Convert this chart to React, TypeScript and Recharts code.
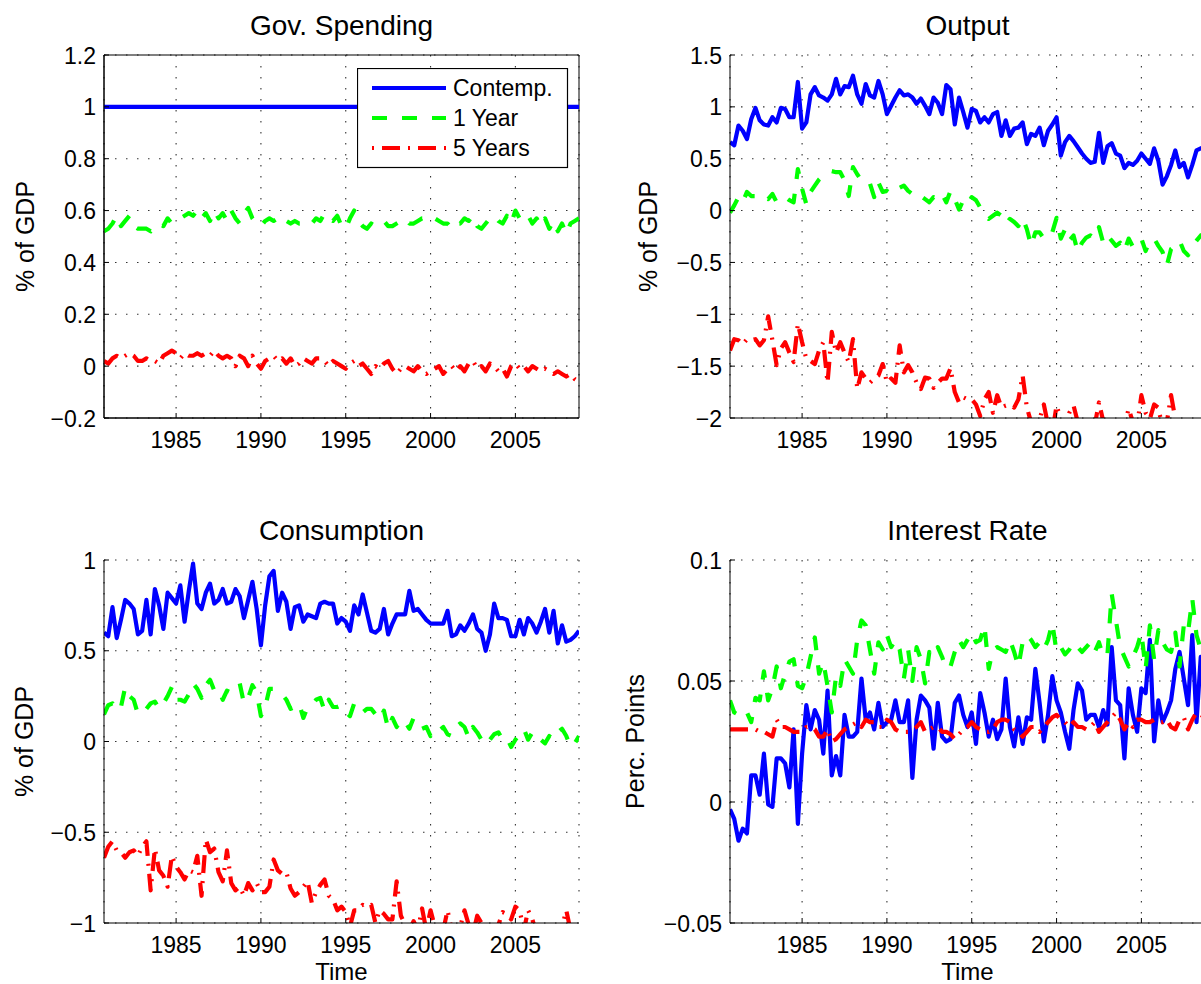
import React from 'react';
import { LineChart, Line, XAxis, YAxis, CartesianGrid, Legend, ReferenceArea } from 'recharts';

const FONT = '"Liberation Sans", Arial, Helvetica, sans-serif';

// quarterly sample, 1980Q4 .. 2008Q4
const X_START = 1980.75;
const X_END = 2008.75;
const QUARTER = 0.25;
const xTicks = [1985, 1990, 1995, 2000, 2005];

const govTicks = [-0.2, 0, 0.2, 0.4, 0.6, 0.8, 1, 1.2];
const outTicks = [-2, -1.5, -1, -0.5, 0, 0.5, 1, 1.5];
const consTicks = [-1, -0.5, 0, 0.5, 1];
const intTicks = [-0.05, 0, 0.05, 0.1];

const seriesNames = ['Contemp.', '1 Year', '5 Years'];
const panelTitles = ['Gov. Spending', 'Output', 'Consumption', 'Interest Rate'];

// ---- Gov. Spending ----
const govContemp = [
  1, 1, 1, 1, 1, 1, 1, 1, 1, 1, 1, 1, 1, 1, 1, 1, 1, 1, 1, 1,
  1, 1, 1, 1, 1, 1, 1, 1, 1, 1, 1, 1, 1, 1, 1, 1, 1, 1, 1, 1,
  1, 1, 1, 1, 1, 1, 1, 1, 1, 1, 1, 1, 1, 1, 1, 1, 1, 1, 1, 1,
  1, 1, 1, 1, 1, 1, 1, 1, 1, 1, 1, 1, 1, 1, 1, 1, 1, 1, 1, 1,
  1, 1, 1, 1, 1, 1, 1, 1, 1, 1, 1, 1, 1, 1, 1, 1, 1, 1, 1, 1,
  1, 1, 1, 1, 1, 1, 1, 1, 1, 1, 1, 1, 1,
];
const govOneYear = [
  0.52,
  0.53, 0.55, 0.58, 0.54, 0.56, 0.58, 0.54, 0.53, 0.53, 0.53, 0.52, 0.54,
  0.55, 0.54, 0.57, 0.55, 0.56, 0.57, 0.58, 0.59, 0.58, 0.6, 0.57, 0.59,
  0.56, 0.6, 0.57, 0.59, 0.56, 0.6, 0.57, 0.55, 0.59, 0.61, 0.57, 0.55,
  0.54, 0.56, 0.57, 0.56, 0.57, 0.58, 0.56, 0.55, 0.56, 0.55, 0.55, 0.56,
  0.55, 0.57, 0.56, 0.59, 0.57, 0.56, 0.58, 0.54, 0.53, 0.57, 0.6, 0.56,
  0.54, 0.53, 0.55, 0.54, 0.55, 0.56, 0.54, 0.54, 0.55, 0.56, 0.57, 0.55,
  0.55, 0.56, 0.57, 0.57, 0.56, 0.57, 0.56, 0.55, 0.55, 0.53, 0.55, 0.55,
  0.57, 0.56, 0.58, 0.54, 0.53, 0.55, 0.57, 0.58, 0.56, 0.55, 0.58, 0.55,
  0.6, 0.57, 0.56, 0.58, 0.55, 0.57, 0.54, 0.57, 0.53, 0.56, 0.52, 0.55,
  0.51, 0.55, 0.56, 0.57,
];
const govFiveYears = [
  0.02,
  0.01, 0.03, 0.04, 0.03, 0.04, 0.05, 0.04, 0.02, 0.02, 0.03, 0.02, 0.02,
  0.01, 0.04, 0.05, 0.06, 0.05, 0.03, 0.05, 0.04, 0.04, 0.05, 0.04, 0.05,
  0.04, 0.06, 0.04, 0.03, 0.04, 0.03, 0.0, 0.04, 0.03, 0.0, 0.04, 0.01,
  -0.01, 0.02, 0.03, 0.04, 0.02, 0.03, 0.01, 0.03, 0.0, 0.01, 0.03, 0.02,
  0.01, 0.03, 0.03, 0.02, 0.0, 0.02, 0.01, 0.0, -0.01, 0.01, 0.02, 0.0,
  0.01, -0.01, -0.03, 0.0, -0.01, 0.01, 0.02, -0.01, -0.03, -0.01, 0.0, -0.01,
  -0.02, 0.0, -0.02, -0.03, -0.02, -0.01, 0.0, -0.03, -0.01, 0.0, -0.02, 0.0,
  -0.02, 0.01, 0.02, -0.01, 0.0, -0.02, 0.01, 0.0, -0.02, -0.01, -0.04, 0.0,
  0.01, -0.01, 0.0, -0.02, 0.0, -0.01, -0.02, -0.01, -0.02, -0.03, -0.02, -0.03,
  -0.04, -0.03, -0.05, -0.06,
];

// ---- Output ----
const outContemp = [
  0.66, 0.63, 0.82, 0.77, 0.69, 0.88, 0.99, 0.87, 0.83, 0.82,
  0.9, 0.85, 0.99, 0.98, 0.9, 0.9, 1.24, 0.79, 0.85, 1.12,
  1.19, 1.11, 1.09, 1.06, 1.12, 1.27, 1.12, 1.2, 1.19, 1.3,
  1.12, 1.03, 1.22, 1.11, 1.09, 1.25, 1.12, 0.93, 1.01, 1.09,
  1.16, 1.11, 1.12, 1.09, 1.03, 1.08, 1.01, 0.93, 1.09, 1.04,
  0.93, 1.21, 1.17, 0.83, 1.09, 0.95, 0.8, 0.98, 0.96, 0.85,
  0.9, 0.85, 0.93, 0.95, 0.72, 0.87, 0.72, 0.79, 0.8, 0.85,
  0.64, 0.74, 0.72, 0.8, 0.63, 0.77, 0.83, 0.9, 0.53, 0.66,
  0.72, 0.67, 0.61, 0.55, 0.5, 0.46, 0.47, 0.75, 0.46, 0.62,
  0.65, 0.55, 0.53, 0.41, 0.46, 0.44, 0.48, 0.55, 0.5, 0.45,
  0.6, 0.48, 0.25, 0.33, 0.44, 0.58, 0.42, 0.46, 0.32, 0.44,
  0.58, 0.6, 0.62,
];
const outOneYear = [
  -0.02, 0.05, 0.13, 0.08, 0.18, 0.14, 0.14, 0.16, 0.13, 0.11,
  0.16, 0.08, 0.11, 0.13, 0.1, 0.08, 0.4, 0.21, 0.06, 0.18,
  0.24, 0.3, 0.34, 0.37, 0.38, 0.37, 0.37, 0.29, 0.14, 0.42,
  0.35, 0.29, 0.3, 0.26, 0.13, 0.27, 0.18, 0.19, 0.16, 0.21,
  0.22, 0.24, 0.19, 0.16, 0.18, 0.14, 0.11, 0.08, 0.13, 0.11,
  0.16, 0.08, 0.19, 0.11, 0.01, 0.1, 0.06, 0.13, 0.1, 0.03,
  -0.03, -0.08, -0.05, -0.02, -0.05, -0.13, -0.08, -0.11, -0.15, -0.07,
  -0.18, -0.34, -0.21, -0.21, -0.27, -0.27, -0.21, -0.07, -0.27, -0.18,
  -0.29, -0.24, -0.4, -0.31, -0.26, -0.24, -0.27, -0.16, -0.31, -0.24,
  -0.29, -0.34, -0.31, -0.39, -0.27, -0.35, -0.31, -0.27, -0.39, -0.29,
  -0.27, -0.34, -0.4, -0.53, -0.37, -0.34, -0.29, -0.39, -0.43, -0.34,
  -0.29, -0.24, -0.22,
];
const outFiveYears = [
  -1.35, -1.24, -1.25, -1.29, -1.24, -1.25, -1.24, -1.3, -1.25, -1.02,
  -1.25, -1.49, -1.33, -1.27, -1.37, -1.46, -1.09, -1.27, -1.43, -1.45,
  -1.48, -1.35, -1.27, -1.66, -1.17, -1.37, -1.27, -1.37, -1.46, -1.24,
  -1.72, -1.56, -1.62, -1.66, -1.62, -1.59, -1.48, -1.66, -1.62, -1.66,
  -1.3, -1.56, -1.49, -1.56, -1.66, -1.72, -1.61, -1.62, -1.71, -1.66,
  -1.62, -1.62, -1.52, -1.75, -1.85, -1.8, -1.82, -1.82, -1.87, -1.98,
  -1.82, -1.75, -1.95, -1.78, -1.9, -1.88, -1.87, -1.9, -1.82, -1.59,
  -1.9, -2.04, -2.06, -2.01, -1.87, -2.07, -2.14, -1.88, -2.01, -2.1,
  -1.95, -1.88, -2.04, -2.1, -2.14, -2.1, -2.07, -1.85, -2.03, -2.14,
  -2.2, -2.14, -2.1, -2.07, -1.91, -2.04, -2.07, -1.78, -1.95, -2.01,
  -1.87, -1.9, -2.1, -2.04, -1.78, -2.01, -2.14, -2.1, -2.14, -2.18,
  -2.1, -2.14, -2.12,
];

// ---- Consumption ----
const consContemp = [
  0.6, 0.58, 0.74, 0.57, 0.67, 0.78, 0.76, 0.73, 0.59, 0.61,
  0.78, 0.59, 0.84, 0.75, 0.62, 0.82, 0.79, 0.76, 0.86, 0.66,
  0.83, 0.98, 0.76, 0.73, 0.82, 0.87, 0.76, 0.78, 0.84, 0.76,
  0.77, 0.84, 0.8, 0.68, 0.78, 0.88, 0.73, 0.53, 0.75, 0.91,
  0.94, 0.72, 0.82, 0.77, 0.62, 0.74, 0.75, 0.66, 0.7, 0.69,
  0.68, 0.76, 0.77, 0.76, 0.76, 0.65, 0.68, 0.66, 0.61, 0.75,
  0.7, 0.81, 0.71, 0.61, 0.6, 0.62, 0.73, 0.59, 0.65, 0.7,
  0.7, 0.7, 0.83, 0.72, 0.73, 0.7, 0.67, 0.65, 0.65, 0.65,
  0.65, 0.72, 0.58, 0.59, 0.64, 0.61, 0.65, 0.7, 0.62, 0.6,
  0.5, 0.59, 0.76, 0.68, 0.68, 0.67, 0.58, 0.58, 0.67, 0.59,
  0.68, 0.65, 0.6, 0.66, 0.73, 0.6, 0.72, 0.54, 0.64, 0.55,
  0.56, 0.58, 0.61,
];
const consOneYear = [
  0.15, 0.2, 0.21, 0.17, 0.19, 0.3, 0.25, 0.23, 0.15, 0.16,
  0.18, 0.21, 0.22, 0.18, 0.21, 0.25, 0.3, 0.23, 0.23, 0.22,
  0.26, 0.32, 0.29, 0.24, 0.31, 0.34, 0.28, 0.29, 0.23, 0.28,
  0.27, 0.3, 0.32, 0.21, 0.24, 0.31, 0.27, 0.14, 0.19, 0.29,
  0.29, 0.27, 0.26, 0.23, 0.18, 0.19, 0.21, 0.13, 0.19, 0.2,
  0.23, 0.24, 0.17, 0.23, 0.19, 0.19, 0.2, 0.16, 0.14, 0.21,
  0.17, 0.16, 0.18, 0.18, 0.15, 0.12, 0.17, 0.07, 0.13, 0.08,
  0.12, 0.11, 0.07, 0.13, 0.11, 0.07, 0.08, 0.03, 0.07, 0.06,
  0.08, 0.04, 0.03, 0.08, 0.1, 0.08, 0.02, 0.08, 0.05, 0.01,
  -0.02, 0.01, 0.04, 0.05, 0.01, 0.02, -0.03, 0.01, 0.04, 0.07,
  0.01, 0.05, 0.01, 0.01, -0.01, 0.03, 0.01, 0.05, 0.07, 0.03,
  -0.03, -0.01, 0.03,
];
const consFiveYears = [
  -0.64, -0.58, -0.55, -0.6, -0.61, -0.64, -0.61, -0.6, -0.63, -0.58,
  -0.55, -0.82, -0.59, -0.71, -0.74, -0.8, -0.63, -0.69, -0.72, -0.76,
  -0.71, -0.72, -0.63, -0.85, -0.54, -0.61, -0.59, -0.72, -0.77, -0.6,
  -0.78, -0.82, -0.8, -0.85, -0.78, -0.82, -0.78, -0.83, -0.83, -0.8,
  -0.65, -0.71, -0.73, -0.72, -0.81, -0.85, -0.83, -0.8, -0.77, -0.89,
  -0.83, -0.79, -0.76, -0.85, -0.87, -0.93, -0.91, -0.94, -1.02, -0.93,
  -0.93, -0.9, -0.91, -0.9, -1.0, -0.93, -0.95, -0.98, -0.98, -0.77,
  -0.96, -1.01, -1.04, -0.99, -1.04, -0.92, -1.04, -0.93, -1.02, -1.06,
  -1.04, -0.93, -1.04, -1.06, -1.02, -0.93, -1.01, -1.06, -0.96, -1.0,
  -1.06, -1.07, -1.04, -1.01, -0.94, -0.95, -0.98, -0.91, -0.93, -1.04,
  -0.93, -0.98, -1.06, -1.04, -1.02, -1.06, -1.04, -1.06, -1.02, -0.93,
  -1.04, -1.07, -1.06,
];

// ---- Interest Rate ----
const intContemp = [
  -0.003, -0.007, -0.016, -0.011, -0.013, 0.011, 0.011, 0.003, 0.02, -0.001,
  -0.002, 0.018, 0.018, 0.016, 0.006, 0.03, -0.009, 0.02, 0.04, 0.03,
  0.038, 0.034, 0.02, 0.046, 0.011, 0.019, 0.011, 0.036, 0.027, 0.027,
  0.029, 0.051, 0.034, 0.037, 0.03, 0.041, 0.031, 0.033, 0.034, 0.042,
  0.033, 0.033, 0.042, 0.01, 0.034, 0.044, 0.042, 0.039, 0.022, 0.041,
  0.027, 0.025, 0.026, 0.041, 0.044, 0.036, 0.031, 0.037, 0.024, 0.045,
  0.037, 0.027, 0.034, 0.026, 0.03, 0.051, 0.031, 0.023, 0.035, 0.024,
  0.035, 0.034, 0.055, 0.041, 0.025, 0.036, 0.052, 0.042, 0.037, 0.029,
  0.022, 0.038, 0.049, 0.046, 0.034, 0.036, 0.036, 0.031, 0.038, 0.032,
  0.064, 0.042, 0.04, 0.018, 0.047, 0.036, 0.029, 0.047, 0.045, 0.067,
  0.025, 0.042, 0.033, 0.037, 0.042, 0.055, 0.062, 0.051, 0.04, 0.069,
  0.033, 0.06, 0.055,
];
const intOneYear = [
  0.042, 0.037, 0.036, 0.038, 0.037, 0.033, 0.043, 0.042, 0.054, 0.042,
  0.047, 0.056, 0.047, 0.053, 0.058, 0.059, 0.048, 0.047, 0.052, 0.06,
  0.068, 0.053, 0.058, 0.048, 0.037, 0.052, 0.048, 0.059, 0.056, 0.053,
  0.067, 0.075, 0.073, 0.063, 0.053, 0.066, 0.063, 0.069, 0.064, 0.067,
  0.063, 0.051, 0.063, 0.05, 0.064, 0.059, 0.049, 0.062, 0.06, 0.064,
  0.06, 0.055, 0.056, 0.062, 0.067, 0.064, 0.067, 0.07, 0.066, 0.067,
  0.073, 0.055, 0.063, 0.064, 0.063, 0.062, 0.067, 0.062, 0.056, 0.066,
  0.069, 0.067, 0.064, 0.066, 0.063, 0.067, 0.074, 0.062, 0.064, 0.061,
  0.063, 0.066, 0.064, 0.062, 0.064, 0.066, 0.062, 0.066, 0.06, 0.061,
  0.086, 0.075, 0.064, 0.06, 0.056, 0.06, 0.064, 0.07, 0.055, 0.073,
  0.059, 0.071, 0.066, 0.063, 0.062, 0.07, 0.056, 0.073, 0.07, 0.084,
  0.069, 0.063, 0.07,
];
const intFiveYears = [
  0.03, 0.03, 0.03, 0.03, 0.03, 0.03, 0.03, 0.029, 0.029, 0.028,
  0.027, 0.034, 0.031, 0.031, 0.03, 0.029, 0.029, 0.029, 0.031, 0.031,
  0.03, 0.027, 0.027, 0.03, 0.025, 0.026, 0.028, 0.03, 0.031, 0.032,
  0.033, 0.031, 0.034, 0.033, 0.033, 0.031, 0.031, 0.034, 0.033, 0.03,
  0.029, 0.029, 0.029, 0.03, 0.031, 0.033, 0.029, 0.03, 0.031, 0.031,
  0.029, 0.029, 0.028, 0.026, 0.028, 0.03, 0.031, 0.033, 0.031, 0.03,
  0.029, 0.029, 0.03, 0.033, 0.034, 0.034, 0.033, 0.03, 0.029, 0.027,
  0.029, 0.031, 0.031, 0.029, 0.031, 0.033, 0.035, 0.036, 0.034, 0.033,
  0.031, 0.033, 0.031, 0.031, 0.03, 0.031, 0.033, 0.029, 0.031, 0.033,
  0.035, 0.037, 0.034, 0.03, 0.033, 0.031, 0.034, 0.034, 0.033, 0.033,
  0.034, 0.033, 0.033, 0.034, 0.031, 0.03, 0.034, 0.035, 0.03, 0.034,
  0.037, 0.036, 0.035,
];

const quarters = govOneYear.map((_, i) => X_START + i * QUARTER);

const buildRows = (a: number[], b: number[], c: number[]) =>
  quarters.map((t, i) => ({ t, contemp: a[i], oneYear: b[i], fiveYears: c[i] }));

const govRows = buildRows(govContemp, govOneYear, govFiveYears);
const outRows = buildRows(outContemp, outOneYear, outFiveYears);
const consRows = buildRows(consContemp, consOneYear, consFiveYears);
const intRows = buildRows(intContemp, intOneYear, intFiveYears);

const SERIES = [
  { key: 'contemp', color: '#0000FF', dash: undefined as string | undefined, offset: 0 },
  { key: 'oneYear', color: '#00FF00', dash: '15 15', offset: 0 },
  { key: 'fiveYears', color: '#FF0000', dash: '18 8 2 8', offset: 26 },
];

const fmt = (v: number) => (v < 0 ? '\u2212' + String(Math.abs(v)) : String(v));

const XTick = (props: any) => {
  const { x, y, payload } = props;
  return (
    <g>
      <line x1={x} x2={x} y1={y} y2={y - 5} stroke="#000" strokeWidth={1} />
      <text x={x} y={y + 30} textAnchor="middle" fontSize={23} fontFamily={FONT} fill="#000">
        {payload.value}
      </text>
    </g>
  );
};

const YTick = (props: any) => {
  const { x, y, payload } = props;
  return (
    <g>
      <line x1={x} x2={x + 5} y1={y} y2={y} stroke="#000" strokeWidth={1} />
      <text x={x - 8} y={y + 8.5} textAnchor="end" fontSize={23} fontFamily={FONT} fill="#000">
        {fmt(payload.value)}
      </text>
    </g>
  );
};

const LegendBox = () => (
  <svg width={212} height={101} style={{ display: 'block' }}>
    <rect x={0.5} y={0.5} width={210} height={99} fill="#fff" stroke="#000" strokeWidth={1.2} />
    {SERIES.map((s, i) => {
      const cy = 20 + i * 30;
      return (
        <g key={s.key}>
          <line x1={15} x2={89} y1={cy} y2={cy} stroke={s.color} strokeWidth={4}
            strokeDasharray={s.dash} strokeDashoffset={s.offset} />
          <text x={96} y={cy + 8} fontSize={23} fontFamily={FONT} fill="#000">{seriesNames[i]}</text>
        </g>
      );
    })}
  </svg>
);

type PanelProps = {
  left: number; top: number; width: number; height: number;
  plot: { x0: number; x1: number; y0: number; y1: number };
  data: any[]; domain: [number, number]; ticks: number[];
  box?: boolean; legend?: boolean;
};

const Y_AXIS_W = 80;
const X_AXIS_H = 50;

const Panel = ({ left, top, width, height, plot, data, domain, ticks, box, legend }: PanelProps) => {
  const margin = {
    left: plot.x0 - left - Y_AXIS_W,
    right: left + width - plot.x1,
    top: plot.y0 - top,
    bottom: top + height - plot.y1 - X_AXIS_H,
  };
  return (
    <div style={{ position: 'absolute', left, top, width, height }}>
      <LineChart width={width} height={height} data={data} margin={margin}>
        <CartesianGrid stroke="#333" strokeWidth={1.1} strokeDasharray="1.5 9.5" />
        <XAxis dataKey="t" type="number" domain={[X_START, X_END]} ticks={xTicks} allowDataOverflow
          height={X_AXIS_H} tickSize={0} tickMargin={0} tickLine={false} interval={0}
          tick={(p: any) => <XTick {...p} />} axisLine={{ stroke: '#000', strokeWidth: 1 }} />
        <YAxis type="number" domain={domain} ticks={ticks} allowDataOverflow
          width={Y_AXIS_W} tickSize={0} tickMargin={0} tickLine={false} interval={0}
          tick={(p: any) => <YTick {...p} />} axisLine={{ stroke: '#000', strokeWidth: 1 }} />
        {SERIES.map((s) => (
          <Line key={s.key} dataKey={s.key} type="linear" stroke={s.color} strokeWidth={4.2}
            strokeDasharray={s.dash} strokeLinejoin="round" dot={false} activeDot={false}
            isAnimationActive={false} />
        ))}
        {box && (
          <ReferenceArea x1={X_START} x2={X_END} y1={domain[0]} y2={domain[1]}
            fill="none" fillOpacity={0} stroke="#000" strokeWidth={1} />
        )}
        {legend && (
          <Legend layout="vertical" align="center" verticalAlign="middle"
            wrapperStyle={{ left: 357, top: 68, width: 212, height: 101 }}
            content={() => <LegendBox />} />
        )}
      </LineChart>
    </div>
  );
};

const textStyle = { fontFamily: FONT, fill: '#000' };

export default function App() {
  return (
    <div style={{ position: 'absolute', left: 0, top: 0, width: 1201, height: 984, overflow: 'hidden', background: '#fff' }}>
      <Panel left={0} top={0} width={600} height={480} plot={{ x0: 104, x1: 579, y0: 55, y1: 418 }}
        data={govRows} domain={[-0.2, 1.2]} ticks={govTicks} box legend />
      <Panel left={600} top={0} width={620} height={480} plot={{ x0: 730, x1: 1205, y0: 55, y1: 418 }}
        data={outRows} domain={[-2, 1.5]} ticks={outTicks} />
      <Panel left={0} top={480} width={600} height={504} plot={{ x0: 104, x1: 579, y0: 560, y1: 923 }}
        data={consRows} domain={[-1, 1]} ticks={consTicks} />
      <Panel left={600} top={480} width={620} height={504} plot={{ x0: 730, x1: 1205, y0: 560, y1: 923 }}
        data={intRows} domain={[-0.05, 0.1]} ticks={intTicks} />
      <svg width={1201} height={984} style={{ position: 'absolute', left: 0, top: 0, pointerEvents: 'none' }}>
        <text x={341.5} y={35} textAnchor="middle" fontSize={28} {...textStyle}>{panelTitles[0]}</text>
        <text x={967.5} y={35} textAnchor="middle" fontSize={28} {...textStyle}>{panelTitles[1]}</text>
        <text x={341.5} y={540} textAnchor="middle" fontSize={28} {...textStyle}>{panelTitles[2]}</text>
        <text x={967.5} y={540} textAnchor="middle" fontSize={28} {...textStyle}>{panelTitles[3]}</text>
        <text transform="translate(34,236.5) rotate(-90)" textAnchor="middle" fontSize={25} {...textStyle}>% of GDP</text>
        <text transform="translate(657,236.5) rotate(-90)" textAnchor="middle" fontSize={25} {...textStyle}>% of GDP</text>
        <text transform="translate(33,741.5) rotate(-90)" textAnchor="middle" fontSize={25} {...textStyle}>% of GDP</text>
        <text transform="translate(644,741.5) rotate(-90)" textAnchor="middle" fontSize={25} {...textStyle}>Perc. Points</text>
        <text x={341.5} y={980} textAnchor="middle" fontSize={24} {...textStyle}>Time</text>
        <text x={967.5} y={980} textAnchor="middle" fontSize={24} {...textStyle}>Time</text>
      </svg>
    </div>
  );
}
